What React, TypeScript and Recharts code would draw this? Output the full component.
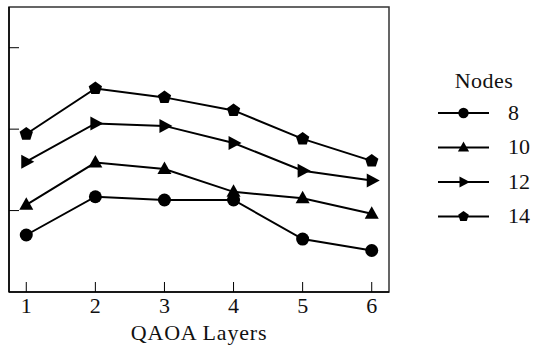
import React from 'react';
import { LineChart, Line, XAxis, YAxis, ReferenceArea } from 'recharts';

const layers = [1, 2, 3, 4, 5, 6];
const nodes8 = [0.70, 1.17, 1.13, 1.13, 0.65, 0.51];
const nodes10 = [1.07, 1.59, 1.51, 1.23, 1.15, 0.96];
const nodes12 = [1.60, 2.07, 2.04, 1.83, 1.49, 1.37];
const nodes14 = [1.94, 2.50, 2.39, 2.23, 1.88, 1.61];
const xTicks = [1, 2, 3, 4, 5, 6];
const yTicks = [1, 2, 3];
const seriesNames = ['8', '10', '12', '14'];
const markerKinds = ['circle', 'triangle', 'right', 'pentagon'];

const data = layers.map((l, i) => ({
  layer: l,
  n8: nodes8[i],
  n10: nodes10[i],
  n12: nodes12[i],
  n14: nodes14[i],
}));

const FONT = 'Liberation Serif';

function markerShape(kind: string, cx: number, cy: number, s: number, key?: any) {
  if (kind === 'circle') return <circle key={key} cx={cx} cy={cy} r={6.5 * s} fill="#000" />;
  if (kind === 'triangle') {
    const pts = `${cx},${cy - 7.5 * s} ${cx - 7 * s},${cy + 5 * s} ${cx + 7 * s},${cy + 5 * s}`;
    return <polygon key={key} points={pts} fill="#000" />;
  }
  if (kind === 'right') {
    const pts = `${cx - 5 * s},${cy - 7 * s} ${cx - 5 * s},${cy + 7 * s} ${cx + 8 * s},${cy}`;
    return <polygon key={key} points={pts} fill="#000" />;
  }
  const r = 7 * s;
  const pts = [0, 1, 2, 3, 4]
    .map((k) => {
      const a = -Math.PI / 2 + (k * 2 * Math.PI) / 5;
      return `${cx + r * Math.cos(a)},${cy + r * Math.sin(a)}`;
    })
    .join(' ');
  return <polygon key={key} points={pts} fill="#000" />;
}

const makeDot = (kind: string) => (p: any) => markerShape(kind, p.cx, p.cy, 1, p.key ?? `${kind}-${p.index}`);

const renderXTick = (p: any) => {
  const { x, y, payload } = p;
  return (
    <g key={`xt-${payload.value}`}>
      <line x1={x} y1={y} x2={x} y2={y - 10} stroke="#000" strokeWidth={1} />
      <text x={x} y={y + 21} textAnchor="middle" fontFamily={FONT} fontSize={22} fill="#111">
        {payload.value}
      </text>
    </g>
  );
};

const renderYTick = (p: any) => {
  const { x, y, payload } = p;
  return <line key={`yt-${payload.value}`} x1={x} y1={y} x2={x + 10} y2={y} stroke="#000" strokeWidth={1} />;
};

const XLabel = (p: any) => {
  const vb = p.viewBox || {};
  const cx = (vb.x ?? 8) + (vb.width ?? 381) / 2;
  return (
    <text x={cx} y={340} textAnchor="middle" fontFamily={FONT} fontSize={22} letterSpacing={0.8} fill="#111">
      QAOA Layers
    </text>
  );
};

const htmlText: React.CSSProperties = {
  position: 'absolute',
  fontFamily: FONT,
  fontSize: 22,
  lineHeight: '22px',
  color: '#111',
  whiteSpace: 'nowrap',
};

const LegendBox = () => (
  <div style={{ position: 'absolute', left: 420, top: 60, width: 128, height: 180, zIndex: 2 }}>
    <svg width={128} height={180} style={{ display: 'block', position: 'absolute', left: 0, top: 0 }}>
      {seriesNames.map((n, i) => {
        const cy = 53 + i * 34.5;
        return (
          <g key={n}>
            <line x1={18} y1={cy} x2={69} y2={cy} stroke="#000" strokeWidth={2} />
            {markerShape(markerKinds[i], 43.5, cy, 0.8)}
          </g>
        );
      })}
    </svg>
    <div style={{ ...htmlText, left: 0, width: 128, top: 9.6, textAlign: 'center', letterSpacing: 0.5 }}>Nodes</div>
    {seriesNames.map((n, i) => (
      <div key={n} style={{ ...htmlText, left: 88, top: 53 + i * 34.5 - 11.4 }}>
        {n}
      </div>
    ))}
  </div>
);

export default function App() {
  return (
    <div style={{ position: 'absolute', left: 0, top: 0, width: 548, height: 352, background: '#fff' }}>
      <LegendBox />
      <LineChart width={548} height={352} data={data} margin={{ top: 7, right: 159, bottom: 0, left: 8 }}>
        <XAxis
          dataKey="layer"
          type="number"
          domain={[0.75, 6.25]}
          ticks={xTicks}
          interval={0}
          allowDataOverflow
          height={60}
          tickLine={false}
          tickSize={0}
          tickMargin={0}
          tick={renderXTick}
          axisLine={{ stroke: '#000', strokeWidth: 1.5 }}
          label={<XLabel />}
        />
        <YAxis
          type="number"
          domain={[0, 3.5]}
          ticks={yTicks}
          interval={0}
          allowDataOverflow
          width={1}
          tickLine={false}
          tickSize={0}
          tickMargin={0}
          tick={renderYTick}
          axisLine={{ stroke: '#000', strokeWidth: 1.5 }}
        />
        <ReferenceArea x1={0.75} x2={6.25} y1={0} y2={3.5} fill="none" stroke="#333" strokeWidth={1.5} />
        <Line dataKey="n8" name="8" stroke="#000" strokeWidth={2} dot={makeDot('circle')} isAnimationActive={false} />
        <Line dataKey="n10" name="10" stroke="#000" strokeWidth={2} dot={makeDot('triangle')} isAnimationActive={false} />
        <Line dataKey="n12" name="12" stroke="#000" strokeWidth={2} dot={makeDot('right')} isAnimationActive={false} />
        <Line dataKey="n14" name="14" stroke="#000" strokeWidth={2} dot={makeDot('pentagon')} isAnimationActive={false} />
      </LineChart>
    </div>
  );
}
